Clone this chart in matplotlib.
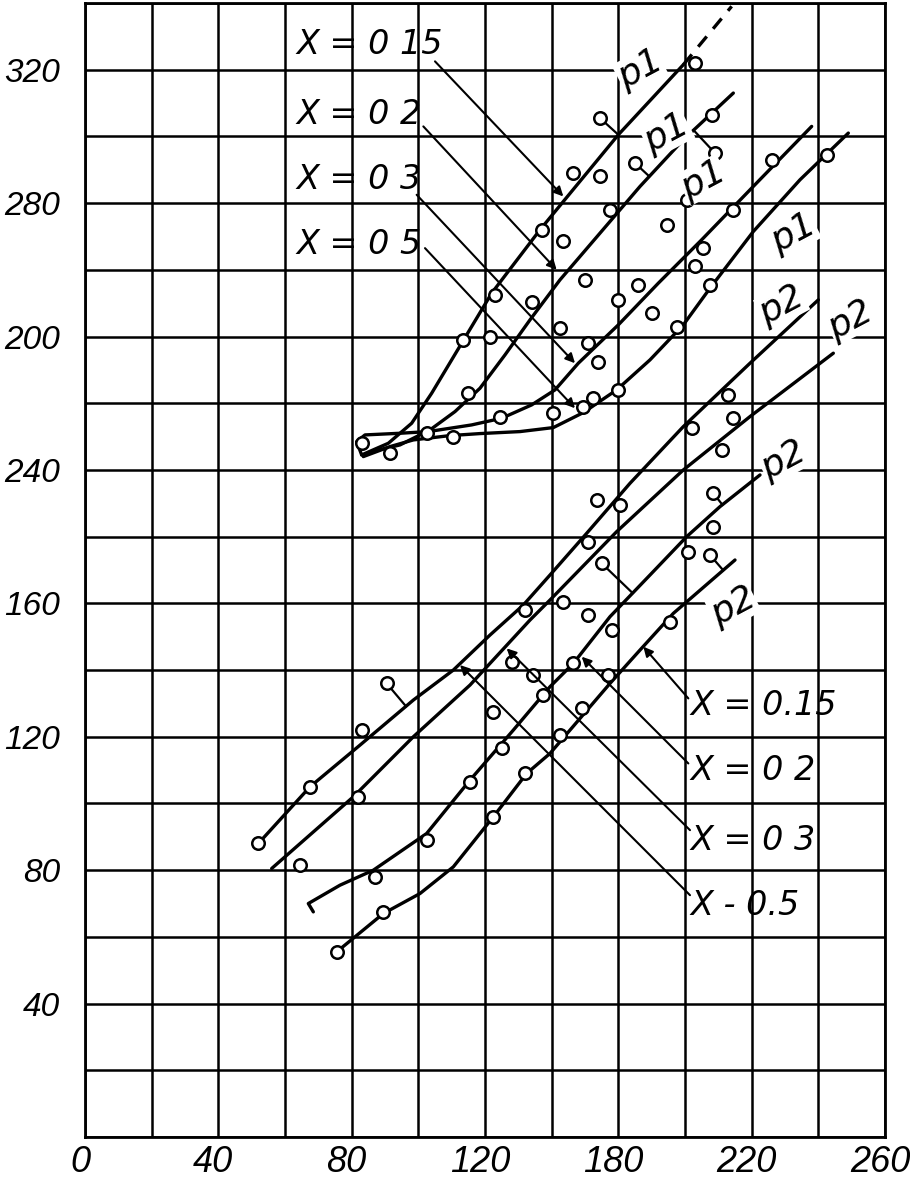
import numpy as np
import matplotlib.pyplot as plt
from matplotlib.transforms import ScaledTranslation

plt.rcParams['font.family'] = ['Liberation Sans', 'DejaVu Sans']

# ---- upper family (p1) ----
p1_a_x = [83, 91, 98, 104, 110, 122, 136.5, 160, 179.5]
p1_a_y = [204.5, 208, 214, 223, 233, 253, 272, 300.5, 321.5]
p1_a_dash_x = [179.5, 194]
p1_a_dash_y = [321.5, 339]

p1_b_x = [86, 94.5, 103.5, 111, 118.5, 126, 133.5, 142.5, 154.5, 166.5, 179.5, 194.5]
p1_b_y = [205.5, 207.5, 212, 217.5, 224.5, 234.5, 245, 257, 271, 285, 299, 313]

p1_c_x = [83, 81.5, 84, 94.5, 103, 116, 125, 134, 141, 148, 160, 172, 185, 200, 218]
p1_c_y = [204.5, 208.5, 210.5, 211, 211.5, 213.5, 215.5, 219.5, 224, 232, 243.5, 256, 269, 284.5, 303]

p1_d_x = [83.5, 91.5, 98.5, 109.5, 118.5, 130.5, 140.5, 149.5, 159.5, 169.5, 179.5, 187.5, 200.5, 214.5, 229]
p1_d_y = [204, 207, 209, 210.3, 210.9, 211.5, 212.7, 217.2, 224, 233, 243.5, 254.5, 271.5, 287, 301]

# ---- lower family (p2) ----
p2_e_x = [52, 67.5, 82.5, 98.5, 110.5, 121.5, 131.5, 139.5, 150.5, 163.5, 179.5, 199.5, 220]
p2_e_y = [88, 105, 117.5, 131, 140, 150.5, 159.5, 168.5, 181, 196, 213, 232, 251]

p2_f_x = [56, 80.5, 98.5, 115.5, 133.5, 139.5, 159.5, 179.5, 199.5, 224.5]
p2_f_y = [80.5, 102, 120, 135.5, 155, 161, 181.5, 200, 216, 235]

p2_g_x = [68.5, 67, 76.5, 86.5, 102.5, 115.5, 128.5, 139.5, 146.5, 157.5, 169.5, 180.5, 190.5, 202.5]
p2_g_y = [67.5, 70, 75.5, 80, 91, 107, 122, 135, 142, 156, 168.5, 180, 189, 198.5]

p2_h_x = [75.5, 89.5, 100.5, 110.5, 122.5, 132.5, 139.5, 157.5, 166.5, 176.5, 195]
p2_h_y = [55.5, 67, 73, 81, 96, 109, 115, 136, 146, 157, 173]

curves = {
    'p1_a': (p1_a_x, p1_a_y), 'p1_b': (p1_b_x, p1_b_y),
    'p1_c': (p1_c_x, p1_c_y), 'p1_d': (p1_d_x, p1_d_y),
    'p2_e': (p2_e_x, p2_e_y), 'p2_f': (p2_f_x, p2_f_y),
    'p2_g': (p2_g_x, p2_g_y), 'p2_h': (p2_h_x, p2_h_y),
}

# measured points (open circles)
pts_x = [183, 154.5, 188, 189, 165, 146.5, 154.5, 157.5, 180.5, 174.5, 137, 143.5,
         194.5, 206, 222.5, 185.5, 183, 150, 166, 134, 187.5, 160, 123, 170, 142.5,
         121.5, 113.5, 177.5, 151, 154, 115, 124.5, 140.5, 149.5, 152.5, 160, 102.5,
         110.5, 83, 91.5, 193, 194.5, 182, 191,
         153.5, 160.5, 188.5, 188.5, 151, 181, 155, 187.5, 143.5, 132, 151, 158,
         175.5, 157, 134.5, 146.5, 90.5, 83, 67.5, 52, 64.5, 82, 87, 89.5, 75.5,
         102.5, 115.5, 125, 122.5, 132, 122.5, 137.5, 128, 142.5, 149]
pts_y = [322, 305.5, 306.5, 295, 292, 289, 288, 278, 281, 273.5, 272, 268.5,
         278, 293, 294.5, 266.5, 261, 257, 255.5, 250.5, 255.5, 251, 252.5, 247, 242.5,
         240, 239, 243, 238, 232.5, 223, 216, 217, 219, 221.5, 224, 211,
         210, 208, 205, 222.5, 215.5, 212.5, 206,
         191, 189.5, 193, 183, 178.5, 175.5, 172, 174.5, 160.5, 158, 156.5, 152,
         154.5, 138.5, 138.5, 142, 136, 122, 105, 88, 81.5, 102, 78, 67.5, 55.5,
         89, 106.5, 116.5, 127.5, 109, 96, 132.5, 142.5, 120.5, 128.5]

# points that hang on a short tail to a curve
tails = [(154.5, 305.5, 'p1_a'), (189, 295, 'p1_b'), (165, 292, 'p1_b'),
         (90.5, 136, 'p2_e'), (83, 122, 'p2_e'), (175.5, 154.5, 'p2_h'),
         (187.5, 174.5, 'p2_h'), (188.5, 193, 'p2_g'), (155, 172, 'p2_g')]

# X labels with their leader arrows (label point -> arrow tip)
upper_labels = ['X = 0 15', 'X = 0 2', 'X = 0 3', 'X = 0 5']
upper_label_y = [327.5, 306.5, 287, 267.5]
upper_lead_start = [(105, 322.5), (101.5, 303), (99.5, 282.5), (102, 266.5)]
upper_lead_end = [(143.5, 282), (141.5, 260), (147, 232), (147, 218.5)]

lower_labels = ['X = 0.15', 'X = 0 2', 'X = 0 3', 'X - 0.5']
lower_label_y = [129.5, 110, 89, 69.5]
lower_lead_start = [(181, 131.5), (181, 112), (181.5, 92), (181.5, 72.5)]
lower_lead_end = [(167.5, 147), (149, 144), (126.5, 146.5), (112.5, 141.5)]

p1_tags = [(166.5, 320), (174.5, 301), (185.5, 287), (212.5, 271)]
p2_tags = [(209, 249.5), (229.5, 245), (209.5, 203), (194.5, 159)]

xticks = [0, 40, 80, 120, 160, 200, 240]
xtick_labels = ['0', '40', '80', '120', '180', '220', '260']
yticks = [40, 80, 120, 160, 200, 240, 280, 320]
ytick_labels = ['40', '80', '120', '160', '240', '200', '280', '320']


def nearest_on_curve(px, py, cx, cy):
    best = None
    for i in range(len(cx) - 1):
        ax_, ay_, bx, by = cx[i], cy[i], cx[i + 1], cy[i + 1]
        dx, dy = bx - ax_, by - ay_
        t = ((px - ax_) * dx + (py - ay_) * dy) / (dx * dx + dy * dy)
        t = min(1, max(0, t))
        qx, qy = ax_ + t * dx, ay_ + t * dy
        d = (qx - px) ** 2 + (qy - py) ** 2
        if best is None or d < best[0]:
            best = (d, qx, qy)
    return best[1], best[2]


fig = plt.figure(figsize=(9.1, 11.86), dpi=100)
ax = fig.add_axes([85 / 910, 49 / 1186, 800 / 910, 1134 / 1186])
ax.set_xlim(0, 240)
ax.set_ylim(0, 340)

ax.set_xticks(np.arange(0, 241, 20))
ax.set_yticks(np.arange(0, 341, 20))
ax.set_xticklabels([xtick_labels[xticks.index(v)] if v in xticks else '' for v in range(0, 241, 20)])
ax.set_yticklabels([ytick_labels[yticks.index(v)] if v in yticks else '' for v in range(0, 341, 20)])
ax.grid(True, color='black', lw=1.8)
ax.set_axisbelow(True)
ax.tick_params(length=0)
ax.tick_params(axis='x', pad=6, labelsize=26)
ax.tick_params(axis='y', pad=18, labelsize=24)
shift = ScaledTranslation(-5 / 100, 0, fig.dpi_scale_trans)
for lab in ax.get_xticklabels():
    lab.set_fontstyle('italic')
    lab.set_transform(lab.get_transform() + shift)
for lab in ax.get_yticklabels():
    lab.set_fontstyle('italic')
for s in ax.spines.values():
    s.set_linewidth(2)

for name, (cx, cy) in curves.items():
    ax.plot(cx, cy, color='black', lw=2.4, solid_capstyle='round', zorder=3)
ax.plot(p1_a_dash_x, p1_a_dash_y, color='black', lw=2.4, ls=(0, (4, 3)), zorder=3)

for tx, ty, key in tails:
    qx, qy = nearest_on_curve(tx, ty, *curves[key])
    ax.plot([tx, qx], [ty, qy], color='black', lw=1.6, zorder=3)

ax.plot(pts_x, pts_y, 'o', ms=9, mfc='white', mec='black', mew=1.8, zorder=4)

lab_font = ['DejaVu Sans']
arrow = dict(arrowstyle='-|>', color='black', lw=1.5, mutation_scale=14, shrinkA=0, shrinkB=0)
for text, ty, st, en in zip(upper_labels, upper_label_y, upper_lead_start, upper_lead_end):
    ax.text(63.5, ty, text, fontsize=24, fontstyle='italic', family=lab_font,
            va='center', ha='left', zorder=5)
    ax.annotate('', xy=en, xytext=st, arrowprops=arrow, zorder=5)

for text, ty, st, en in zip(lower_labels, lower_label_y, lower_lead_start, lower_lead_end):
    ax.text(181.5, ty, text, fontsize=24, fontstyle='italic', family=lab_font,
            va='center', ha='left', zorder=5)
    ax.annotate('', xy=en, xytext=st, arrowprops=arrow, zorder=5)

for x, y in p1_tags:
    ax.text(x, y, 'p1', fontsize=26, fontstyle='italic', family=lab_font, rotation=28,
            ha='center', va='center', zorder=5,
            bbox=dict(fc='white', ec='none', pad=0.2))
for x, y in p2_tags:
    ax.text(x, y, 'p2', fontsize=26, fontstyle='italic', family=lab_font, rotation=28,
            ha='center', va='center', zorder=5,
            bbox=dict(fc='white', ec='none', pad=0.2))

fig.savefig('out.png', dpi=100)
